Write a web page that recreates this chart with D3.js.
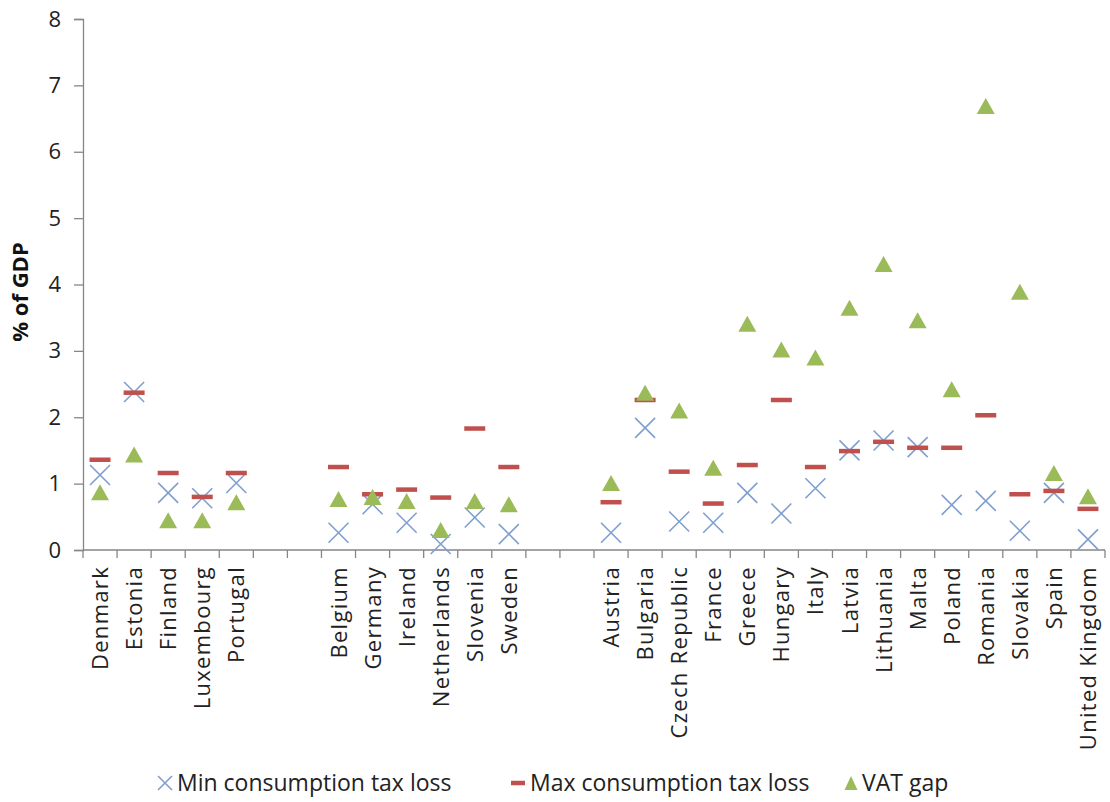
<!DOCTYPE html>
<html><head><meta charset="utf-8">
<script src="https://cdn.jsdelivr.net/npm/d3@7"></script>
<style>body{margin:0;background:#fff}svg{display:block}</style>
</head><body>
<svg id="c" width="1110" height="802"></svg>
<script>
// Categories ("" = gap slot between country groups)
const categories = ["Denmark","Estonia","Finland","Luxembourg","Portugal","","",
  "Belgium","Germany","Ireland","Netherlands","Slovenia","Sweden","","",
  "Austria","Bulgaria","Czech Republic","France","Greece","Hungary","Italy","Latvia",
  "Lithuania","Malta","Poland","Romania","Slovakia","Spain","United Kingdom"];
const minLoss = [1.13,2.38,0.86,0.78,1.01,null,null,
  0.26,0.69,0.41,0.09,0.49,0.24,null,null,
  0.26,1.84,0.43,0.41,0.86,0.55,0.93,1.50,1.65,1.55,0.68,0.74,0.29,0.86,0.16];
const maxLoss = [1.36,2.37,1.16,0.80,1.16,null,null,
  1.25,0.84,0.91,0.79,1.83,1.25,null,null,
  0.72,2.26,1.18,0.70,1.28,2.26,1.25,1.49,1.63,1.54,1.54,2.03,0.84,0.89,0.62];
const vatGap = [0.87,1.44,0.45,0.45,0.72,null,null,
  0.77,0.80,0.74,0.30,0.74,0.69,null,null,
  1.01,2.37,2.10,1.24,3.41,3.02,2.90,3.65,4.31,3.46,2.42,6.69,3.89,1.16,0.81];
const yTicks = [0,1,2,3,4,5,6,7,8];
const seriesNames = ["Min consumption tax loss","Max consumption tax loss","VAT gap"];

const svg = d3.select("#c");
const mLeft = 83, mRight = 1105, mTop = 19, mBottom = 550;
const x = d3.scaleBand().domain(d3.range(categories.length)).range([mLeft, mRight]);
const y = d3.scaleLinear().domain([0, 8]).range([mBottom, mTop]);
const axisColor = "#868686";
const font = "'Open Sans', 'DejaVu Sans', sans-serif";

// Y axis
const yAxis = svg.append("g").attr("transform", `translate(${mLeft},0)`)
  .call(d3.axisLeft(y).tickValues(yTicks).tickSize(9).tickPadding(13).tickFormat(d3.format("d")));
yAxis.select(".domain").attr("stroke", axisColor).attr("stroke-width", 1.3);
yAxis.selectAll(".tick line").attr("stroke", axisColor).attr("stroke-width", 1.3);
yAxis.selectAll(".tick text").attr("font-family", font).attr("font-size", 22).attr("fill", "#222");

// X axis (ticks between categories)
const xAxisG = svg.append("g").attr("transform", `translate(0,${mBottom})`);
xAxisG.append("line").attr("x1", mLeft).attr("x2", mRight).attr("y1", 0).attr("y2", 0)
  .attr("stroke", axisColor).attr("stroke-width", 1.3);
xAxisG.selectAll("line.tk").data(d3.range(categories.length + 1)).join("line")
  .attr("class", "tk")
  .attr("x1", i => mLeft + i * x.step()).attr("x2", i => mLeft + i * x.step())
  .attr("y1", 0).attr("y2", 8).attr("stroke", axisColor).attr("stroke-width", 1.3);
xAxisG.selectAll("text").data(categories.map((c, i) => ({c, i})).filter(d => d.c)).join("text")
  .attr("transform", d => `translate(${x(d.i) + x.bandwidth() / 2 + 8},16) rotate(-90)`)
  .attr("text-anchor", "end")
  .attr("font-family", font).attr("font-size", 22).attr("letter-spacing", 1.3).attr("fill", "#222")
  .text(d => d.c);

// Y title
svg.append("text").attr("transform", "translate(28,292) rotate(-90)")
  .attr("text-anchor", "middle").attr("font-family", font).attr("font-weight", "bold")
  .attr("font-size", 22).attr("fill", "#111").text("% of GDP");

const cx = i => x(i) + x.bandwidth() / 2;
const blue = "#7F9FCF", red = "#C0504D", green = "#9BBB59";

function xMark(sel, s) {
  sel.append("path").attr("d", `M${-s},${-s}L${s},${s}M${-s},${s}L${s},${-s}`)
    .attr("stroke", blue).attr("stroke-width", 1.6).attr("fill", "none");
}
function dashMark(sel, w, h) {
  sel.append("rect").attr("x", -w / 2).attr("y", -h / 2).attr("width", w).attr("height", h).attr("fill", red);
}
function triMark(sel, w, h) {
  sel.append("path").attr("d", `M0,${-h / 2}L${w / 2},${h / 2}L${-w / 2},${h / 2}Z`).attr("fill", green);
}

const idx = d3.range(categories.length);
svg.append("g").selectAll("g").data(idx.filter(i => minLoss[i] != null)).join("g")
  .attr("transform", i => `translate(${cx(i)},${y(minLoss[i])})`).each(function () { xMark(d3.select(this), 10); });
svg.append("g").selectAll("g").data(idx.filter(i => maxLoss[i] != null)).join("g")
  .attr("transform", i => `translate(${cx(i)},${y(maxLoss[i])})`).each(function () { dashMark(d3.select(this), 21, 4.5); });
svg.append("g").selectAll("g").data(idx.filter(i => vatGap[i] != null)).join("g")
  .attr("transform", i => `translate(${cx(i)},${y(vatGap[i])})`).each(function () { triMark(d3.select(this), 18, 16); });

// Legend
const legY = 783;
const leg = svg.append("g");
const items = [
  {name: seriesNames[0], mx: 165, tx: 177, draw: s => xMark(s, 7)},
  {name: seriesNames[1], mx: 518, tx: 530, draw: s => dashMark(s, 14, 4.5)},
  {name: seriesNames[2], mx: 851, tx: 862, draw: s => triMark(s, 13, 14)}
];
items.forEach(it => {
  const g = leg.append("g").attr("transform", `translate(${it.mx},${legY})`);
  it.draw(g);
  leg.append("text").attr("x", it.tx).attr("y", legY).attr("dy", "0.35em")
    .attr("font-family", font).attr("font-size", 23).attr("fill", "#222").text(it.name);
});
</script>
</body></html>
